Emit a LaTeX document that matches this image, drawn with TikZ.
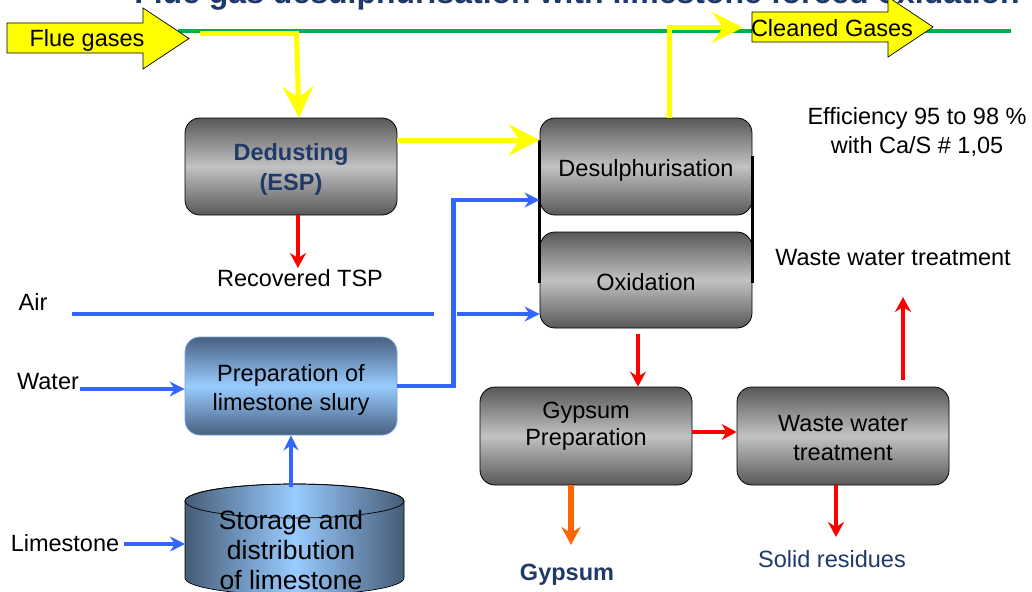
\documentclass[tikz,border=0pt]{standalone}
\usepackage{fontspec}
\setmainfont{Liberation Sans}
\usetikzlibrary{arrows.meta}
\definecolor{gD}{RGB}{88,88,88}
\definecolor{gL}{RGB}{194,194,194}
\definecolor{pD}{RGB}{72,96,128}
\definecolor{pL}{RGB}{153,204,255}
\definecolor{pB}{RGB}{120,165,215}
\definecolor{cD}{RGB}{70,92,120}
\definecolor{cL}{RGB}{153,204,255}
\definecolor{yel}{RGB}{255,255,0}
\definecolor{blu}{RGB}{51,102,255}
\definecolor{red}{RGB}{255,0,0}
\definecolor{ora}{RGB}{255,102,0}
\definecolor{grn}{RGB}{0,176,80}
\definecolor{navy}{RGB}{31,58,104}
\tikzset{
  txt/.style={font=\fontsize{23.5}{28.5}\selectfont, align=center, inner sep=0pt},
  procbox/.style={rounded corners=15pt, draw=black, line width=0.8pt,
    minimum width=212pt, minimum height=97pt, inner sep=0pt,
    top color=gD, bottom color=gD, middle color=gL},
  prepbox/.style={rounded corners=15pt, draw=pB, line width=0.8pt,
    minimum width=212pt, minimum height=98pt, inner sep=0pt,
    top color=pD, bottom color=pD, middle color=pL},
  yl/.style={draw=yel, line width=5pt, -{Stealth[length=31pt,width=31pt,inset=11pt]}},
  ylplain/.style={draw=yel, line width=5pt},
  bl/.style={draw=blu, line width=4.5pt, -{Stealth[length=15pt,width=15pt,inset=5pt]}},
  blplain/.style={draw=blu, line width=4.5pt},
  rd/.style={draw=red, line width=4.5pt, -{Stealth[length=15pt,width=16pt,inset=5pt]}},
  og/.style={draw=ora, line width=6pt, -{Stealth[length=18pt,width=19pt,inset=6pt]}},
  vline/.style={draw=black, line width=2.5pt},
  blockarrow/.style={fill=yel, draw=black, line width=0.7pt}
}
\begin{document}
\begin{tikzpicture}[x=1pt,y=-1pt]
\useasboundingbox (0,0) rectangle (1032,591);
\fill[white] (0,0) rectangle (1032,591);

% title (partly above the page, as in the reference)
\node[font=\bfseries\fontsize{32}{36}\selectfont, text=navy, anchor=base, inner sep=0pt] (title) at (577,4) {Flue gas desulphurisation with limestone forced oxidation};

% green line
\coordinate (gA) at (178,31);
\coordinate (gB) at (1011,31);
\draw[grn, line width=3.5pt] (gA) -- (gB);

% process boxes
\node[procbox] (ded) at (291,166.5) {};
\node[txt, font=\bfseries\fontsize{23.5}{30}\selectfont, text=navy] (dedtext) at (291,169.5) {Dedusting\\(ESP)};
\node[procbox] (des) at (646,166.5) {};
\node[txt] (destext) at (646,170.5) {Desulphurisation};
\node[procbox, minimum height=96pt] (oxi) at (646,280) {};
\node[txt] (oxitext) at (646,282) {Oxidation};
\node[prepbox] (prep) at (291,386) {};
\node[txt] (preptext) at (291,390) {Preparation of\\limestone slury};
\node[procbox, minimum height=98pt] (gyp) at (586,436) {};
\node[txt, font=\fontsize{23.5}{27.5}\selectfont] (gyptext) at (586,426) {Gypsum\\Preparation};
\node[procbox, minimum height=98pt] (wwt) at (843,436) {};
\node[txt] (wwttext) at (843,438) {Waste water\\treatment};

% vertical black lines joining desulphurisation and oxidation
\draw[vline] ([yshift=26.5pt]des.west) -- ([yshift=-3pt]oxi.west);
\draw[vline] ([yshift=10.5pt]des.east) -- ([yshift=-3pt]oxi.east);

% cylinder
\shade[left color=cD, right color=cD, middle color=cL, draw=black, line width=0.7pt]
  (185,578) -- (185,501) arc[start angle=180, end angle=360, x radius=109.5, y radius=17]
  -- (404,578) arc[start angle=0, end angle=180, x radius=109.5, y radius=17] -- cycle;
\draw[black, line width=0.7pt] (294.5,501) ellipse [x radius=109.5, y radius=17];
\coordinate (cyltop) at (291,487);
\coordinate (cylleft) at (185,544);
\node[txt, font=\fontsize{26.5}{30}\selectfont] (cyltext) at (291,550) {Storage and\\distribution\\of limestone};

% labels
\node[txt] (air) at (33,302) {Air};
\node[txt] (water) at (48,382) {Water};
\node[txt] (lime) at (65,543) {Limestone};
\node[txt] (tsp) at (300,278) {Recovered TSP};
\node[txt] (effic) at (917,132) {Efficiency 95 to 98 \%\\with Ca/S \# 1,05};
\node[txt] (wwtlabel) at (893,258) {Waste water treatment};
\node[txt, font=\bfseries\fontsize{23.5}{28.5}\selectfont, text=navy] (gypsum) at (567,575) {Gypsum};
\node[txt, text=navy] (solid) at (832,559) {Solid residues};

% yellow gas lines
\coordinate (fl1) at (200,34);
\coordinate (fl2) at (299,34);
\draw[ylplain] (fl1) -- (fl2);
\draw[yl] ([xshift=-2.5pt]fl2) -- ([xshift=8pt]ded.north);
\draw[yl] ([yshift=26.5pt]ded.east) -- ([yshift=26.5pt]des.west);
\coordinate (cltip) at (743,27.5);
\draw[yl] ([xshift=23pt]des.north) |- (cltip);

% block arrows
\path[blockarrow] (7,23) -- (143,23) -- (143,8) -- (189,38.5) -- (143,69) -- (143,53) -- (7,53) -- cycle;
\node[txt] (flue) at (87,40) {Flue gases};
\path[blockarrow] (752,12) -- (888,12) -- (888,-3) -- (933,27) -- (888,57) -- (888,42) -- (752,42) -- cycle;
\node[txt] (clean) at (832,28) {Cleaned Gases};

% blue lines
\coordinate (airA) at (72,314);
\coordinate (airB) at (434,314);
\coordinate (airC) at (457,314);
\draw[blplain] (airA) -- (airB);
\draw[bl] (airC) -- (airC -| oxi.west);
\draw[bl] (prep.east) -- ++(56,0) |- ([yshift=-33.5pt]des.west);
\coordinate (wat) at (80,389);
\draw[bl] (wat) -- (wat -| prep.west);
\coordinate (limA) at (124,544);
\draw[bl] (limA) -- (cylleft);
\draw[bl] (cyltop) -- (prep.south);

% red lines
\coordinate (tspend) at (298,268);
\draw[rd] ([xshift=7pt]ded.south) -- (tspend);
\draw[rd] ([xshift=-8pt,yshift=-6pt]oxi.south) -- ([xshift=52pt]gyp.north);
\draw[rd] ([yshift=4pt]gyp.east) -- ([yshift=4pt]wwt.west);
\coordinate (solidend) at (836,537);
\draw[rd] ([xshift=-7pt]wwt.south) -- (solidend);
\coordinate (upend) at (903,297);
\draw[rd] ([xshift=60pt,yshift=7pt]wwt.north) -- (upend);

% orange gypsum
\coordinate (gypend) at (571,545);
\draw[og] ([xshift=-15pt]gyp.south) -- (gypend);
\end{tikzpicture}
\end{document}
